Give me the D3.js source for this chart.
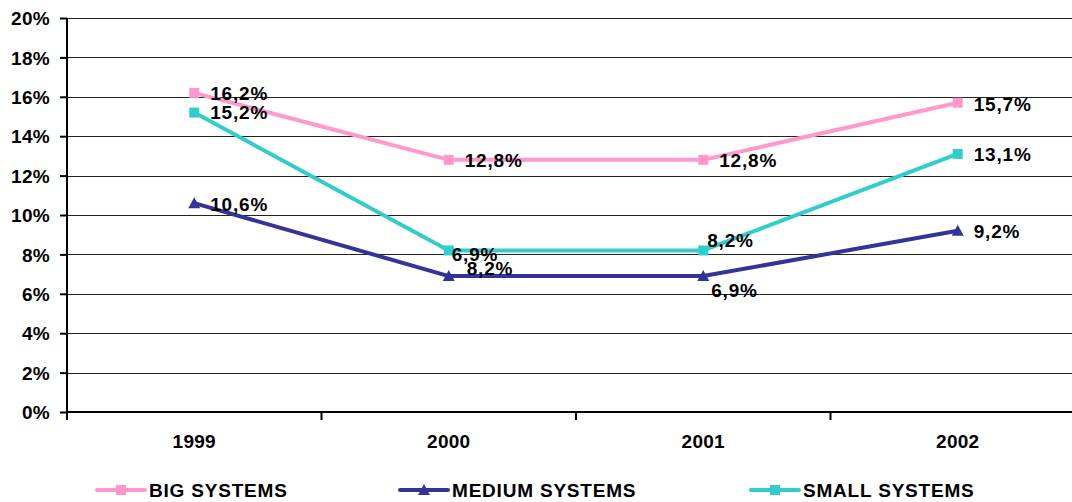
<!DOCTYPE html>
<html>
<head>
<meta charset="utf-8">
<script src="https://d3js.org/d3.v7.min.js"></script>
<style>
  body { margin: 0; background: #fff; }
  svg { display: block; font-family: "Liberation Sans", Arial, sans-serif; font-weight: bold; }
</style>
</head>
<body>
<div id="chart"></div>
<script>
// data
var years = ["1999", "2000", "2001", "2002"];
var bigSystems = [16.2, 12.8, 12.8, 15.7];
var mediumSystems = [10.6, 6.9, 6.9, 9.2];
var smallSystems = [15.2, 8.2, 8.2, 13.1];
// label texts as printed in the original (the 2000 labels are swapped there)
var bigLabels = ["16,2%", "12,8%", "12,8%", "15,7%"];
var mediumLabels = ["10,6%", "8,2%", "6,9%", "9,2%"];
var smallLabels = ["15,2%", "6,9%", "8,2%", "13,1%"];
var yTicks = [0, 2, 4, 6, 8, 10, 12, 14, 16, 18, 20];

var W = 1072, H = 502;
var FS = 19, LS = 0.8;
var svg = d3.select("#chart").append("svg").attr("width", W).attr("height", H);

var x = d3.scaleBand().domain(years).range([67, 1085]);
var y = d3.scaleLinear().domain([0, 20]).range([412, 18]);

// gridlines
svg.append("g").selectAll("line").data(yTicks.slice(1)).enter().append("line")
  .attr("x1", 67).attr("x2", W)
  .attr("y1", function(d) { return Math.round(y(d)) + 0.5; })
  .attr("y2", function(d) { return Math.round(y(d)) + 0.5; })
  .attr("stroke", "#222").attr("stroke-width", 1);

// y axis
var yAxis = svg.append("g").attr("transform", "translate(67,0)")
  .call(d3.axisLeft(y).tickValues(yTicks).tickSize(7).tickPadding(10)
    .tickFormat(function(d) { return d + "%"; }));
yAxis.select(".domain").attr("stroke", "#000").attr("stroke-width", 2).attr("d", "M0,18V420");
yAxis.selectAll(".tick line").attr("stroke", "#000").attr("stroke-width", 2);
yAxis.selectAll(".tick text").attr("fill", "#000").attr("font-size", FS)
  .attr("font-family", "Liberation Sans, Arial, sans-serif").attr("font-weight", "bold")
  .attr("letter-spacing", 0.3).attr("dy", "0.35em");

// x axis
var xAxis = svg.append("g").attr("transform", "translate(0,412)")
  .call(d3.axisBottom(x).tickSize(0).tickPadding(23));
xAxis.select(".domain").remove();
svg.append("line").attr("x1", 66).attr("x2", W).attr("y1", 412).attr("y2", 412)
  .attr("stroke", "#000").attr("stroke-width", 2);
svg.append("g").selectAll("line").data(years).enter().append("line")
  .attr("x1", function(d) { return x(d); }).attr("x2", function(d) { return x(d); })
  .attr("y1", 412).attr("y2", 420).attr("stroke", "#000").attr("stroke-width", 2);
xAxis.selectAll(".tick text").attr("fill", "#000").attr("font-size", FS)
  .attr("font-family", "Liberation Sans, Arial, sans-serif").attr("font-weight", "bold")
  .attr("letter-spacing", 0.3);

var cx = function(i) { return x(years[i]) + x.bandwidth() / 2; };

var series = [
  { name: "BIG SYSTEMS", values: bigSystems, labels: bigLabels, color: "#ff99cc", marker: "square",
    off: [[16, 0], [16, 1], [16, 1], [16, 2]] },
  { name: "MEDIUM SYSTEMS", values: mediumSystems, labels: mediumLabels, color: "#333399", marker: "triangle",
    off: [[16, 1], [18, -8], [8, 14], [16, 1]] },
  { name: "SMALL SYSTEMS", values: smallSystems, labels: smallLabels, color: "#33cccc", marker: "square",
    off: [[16, 0], [3, 4], [4, -10], [16, 0]] }
];

var line = d3.line().x(function(d, i) { return cx(i); }).y(function(d) { return y(d); });

function drawMarker(g, type, color, px, py) {
  if (type === "square") {
    g.append("rect").attr("x", px - 5).attr("y", py - 5).attr("width", 10).attr("height", 10).attr("fill", color);
  } else {
    g.append("path").attr("d", "M" + px + "," + (py - 6) + "L" + (px + 6) + "," + (py + 5) + "L" + (px - 6) + "," + (py + 5) + "Z")
      .attr("fill", color);
  }
}

series.forEach(function(s) {
  var g = svg.append("g");
  g.append("path").datum(s.values).attr("d", line).attr("fill", "none")
    .attr("stroke", s.color).attr("stroke-width", 4).attr("stroke-linejoin", "round");
  s.values.forEach(function(v, i) { drawMarker(g, s.marker, s.color, cx(i), y(v)); });
});

// data labels on top
series.forEach(function(s) {
  svg.append("g").selectAll("text").data(s.values).enter().append("text")
    .attr("x", function(d, i) { return cx(i) + s.off[i][0]; })
    .attr("y", function(d, i) { return y(d) + s.off[i][1]; })
    .attr("dy", "0.35em").attr("font-size", FS).attr("letter-spacing", LS).attr("fill", "#000")
    .text(function(d, i) { return s.labels[i]; });
});

// legend
var legendX = [97, 400, 751];
series.forEach(function(s, i) {
  var g = svg.append("g").attr("transform", "translate(" + legendX[i] + ",490)");
  g.append("line").attr("x1", 0).attr("x2", 48).attr("y1", 0).attr("y2", 0)
    .attr("stroke", s.color).attr("stroke-width", 4).attr("stroke-linecap", "round");
  drawMarker(g, s.marker, s.color, 24, 0);
  g.append("text").attr("x", 52).attr("y", 0).attr("dy", "0.38em").attr("font-size", FS)
    .attr("letter-spacing", LS).attr("fill", "#000").text(s.name);
});
</script>
</body>
</html>
